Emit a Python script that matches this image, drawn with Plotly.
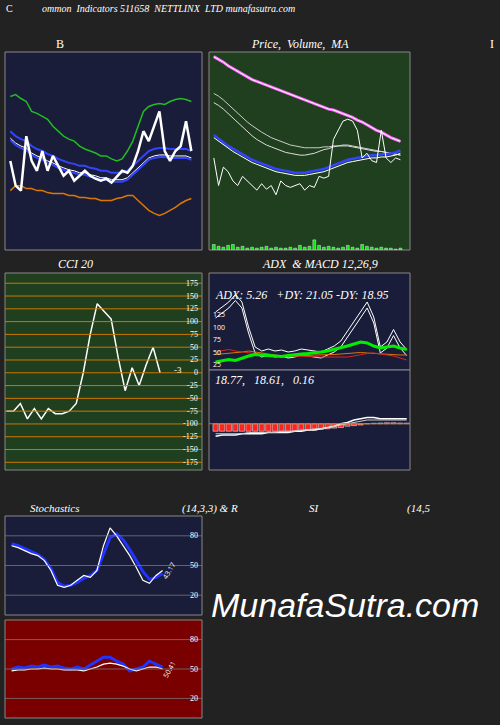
import plotly.graph_objects as go

W, H = 500, 725

# ---- data ----
bb_price = [90, 65, 60, 115, 90, 80, 100, 80, 95, 85, 75, 80, 70, 75, 80, 75, 72, 70, 72, 68, 74, 80, 78, 85, 100, 120, 110, 125, 140, 100, 90, 100, 105, 130, 100]
bb_upper = [155, 157, 153, 150, 140, 138, 135, 132, 125, 120, 115, 112, 110, 105, 102, 100, 98, 95, 95, 92, 90, 92, 100, 110, 125, 140, 145, 147, 148, 147, 150, 152, 153, 152, 150]
bb_mid_a = [120, 115, 112, 110, 105, 102, 100, 97, 95, 92, 90, 88, 87, 85, 85, 83, 82, 80, 80, 78, 78, 78, 80, 85, 90, 95, 100, 102, 103, 103, 102, 102, 102, 102, 100]
bb_mid_b = [v - 7 for v in bb_mid_a]
bb_lower = [60, 65, 65, 62, 62, 60, 60, 58, 57, 57, 57, 55, 55, 53, 53, 52, 52, 50, 50, 50, 52, 53, 55, 55, 50, 45, 40, 37, 35, 37, 40, 43, 47, 50, 52]

pv_top = [210, 207, 204, 200, 197, 194, 191, 188, 185, 183, 181, 179, 177, 175, 173, 171, 169, 167, 165, 163, 161, 159, 157, 155, 153, 152, 150, 148, 146, 144, 141, 139, 136, 133, 130, 128, 125, 122, 120, 118]
pv_price = [100, 70, 90, 85, 75, 70, 80, 75, 70, 65, 72, 66, 70, 60, 75, 70, 68, 70, 72, 65, 70, 68, 80, 78, 80, 120, 130, 140, 142, 140, 130, 100, 105, 97, 95, 130, 100, 95, 100, 98]
pv_ma1 = [160, 157, 153, 148, 143, 138, 133, 128, 124, 120, 117, 114, 112, 110, 108, 106, 105, 104, 103, 103, 104, 105, 107, 109, 110, 112, 113, 113, 113, 112, 111, 110, 109, 108, 107, 107, 106, 105, 104, 103]
pv_ma2 = [170, 167, 163, 158, 153, 148, 143, 139, 135, 131, 128, 125, 122, 120, 118, 116, 114, 113, 112, 111, 111, 111, 111, 112, 112, 113, 113, 114, 114, 113, 112, 111, 110, 109, 108, 107, 106, 105, 104, 103]
pv_blue = [125, 121, 117, 113, 110, 107, 104, 101, 98, 96, 94, 92, 90, 88, 87, 86, 85, 84, 84, 84, 85, 86, 87, 88, 90, 92, 94, 96, 98, 99, 100, 101, 102, 103, 103, 104, 104, 105, 106, 108]
pv_vol = [6, 4, 3, 5, 6, 3, 4, 2, 3, 2, 3, 4, 2, 3, 2, 2, 3, 2, 5, 3, 4, 11, 5, 3, 4, 3, 2, 3, 5, 3, 2, 6, 4, 3, 2, 3, 2, 2, 1, 2]

cci = [-75, -75, -60, -90, -70, -90, -70, -80, -80, -75, -60, 0, 75, 135, 120, 105, 30, -35, 10, -25, 15, 50, 0]
cci_ticks = [175, 150, 125, 100, 75, 50, 25, 0, -25, -50, -75, -100, -125, -150, -175]

adx_ticks = [125, 100, 75, 50, 25]
adx_a = [45, 46, 47, 48, 50, 52, 50, 48, 46, 44, 42, 42, 42, 43, 43, 44, 44, 44, 45, 46, 47, 48, 49, 48, 47, 46, 46, 45, 44, 44]
adx_plus = [30, 32, 35, 33, 38, 42, 45, 44, 43, 42, 41, 43, 45, 46, 47, 48, 50, 52, 55, 58, 62, 66, 70, 68, 62, 58, 60, 62, 58, 55]
adx_red = [50, 52, 55, 52, 50, 48, 46, 45, 44, 44, 43, 42, 42, 42, 41, 41, 40, 40, 39, 39, 40, 42, 45, 47, 48, 46, 44, 42, 38, 34]
adx_w1 = [130, 140, 150, 165, 150, 100, 60, 52, 56, 52, 54, 50, 52, 56, 54, 52, 50, 56, 62, 72, 92, 112, 132, 150, 120, 60, 70, 95, 70, 55]
adx_w2 = [v - 12 for v in adx_w1]
macd_line = [-10, -9, -9, -9, -8, -8, -8, -8, -7, -7, -7, -7, -6, -6, -5, -5, -4, -3, -2, 0, 1, 3, 4, 5, 5, 4, 4, 4, 4, 4]
macd_sig = [-8, -8, -8, -8, -8, -7, -7, -7, -7, -7, -6, -6, -6, -5, -5, -4, -4, -3, -2, -1, 0, 1, 2, 3, 3, 3, 3, 3, 3, 3]
macd_hist = [-6, -6, -6, -6, -6, -6, -6, -6, -6, -6, -6, -6, -6, -5.5, -5, -5, -4.5, -4, -3.5, -3, -2, -1.5, -1, 0, 0.4, 0.6, 0.8, 0.8, 0.6, 0.5]

stoch_k = [70, 68, 65, 62, 60, 55, 45, 30, 28, 30, 35, 40, 38, 45, 70, 88, 80, 70, 60, 48, 35, 32, 40, 45]
stoch_d = [72, 70, 67, 64, 61, 56, 47, 33, 29, 30, 33, 37, 40, 45, 62, 78, 82, 76, 66, 55, 44, 36, 38, 42]
rsi_a = [50, 52, 51, 53, 52, 54, 52, 53, 51, 50, 52, 50, 54, 58, 62, 62, 58, 55, 48, 50, 52, 58, 55, 52]
rsi_b = [48, 49, 49, 50, 50, 51, 50, 50, 49, 49, 49, 48, 50, 52, 55, 56, 55, 53, 50, 48, 50, 52, 52, 50]


def dom_x(a, b):
    return [a / W, b / W]


def dom_y(top, bot):
    return [1 - bot / H, 1 - top / H]


fig = go.Figure()
layout = dict(width=W, height=H, margin=dict(l=0, r=0, t=0, b=0),
              paper_bgcolor="#222222", showlegend=False)

panels = [
    # name, x0, x1, top, bottom, bg
    ("1", 5, 202, 52, 250, "#1a1d3a"),
    ("2", 209, 410, 52, 250, "#1f3f1f"),
    ("3", 5, 202, 273, 470, "#1f3f1f"),
    ("4", 209, 410, 273, 370, "#1a1d3a"),
    ("5", 209, 410, 370, 470, "#1a1d3a"),
    ("6", 5, 202, 516, 615, "#1a1d3a"),
    ("7", 5, 202, 620, 718, "#7a0000"),
]
shapes = []
for n, x0, x1, t, b, bg in panels:
    k = "" if n == "1" else n
    layout["xaxis" + k] = dict(domain=dom_x(x0, x1), visible=False, anchor="y" + k)
    layout["yaxis" + k] = dict(domain=dom_y(t, b), visible=False, anchor="x" + k)
    shapes.append(dict(type="rect", xref="paper", yref="paper",
                       x0=x0 / W, x1=x1 / W, y0=1 - b / H, y1=1 - t / H,
                       fillcolor=bg, line=dict(color="#888", width=1), layer="below"))


def line(y, color, ax, width=1.5, x=None):
    x = x if x is not None else list(range(len(y)))
    fig.add_trace(go.Scatter(x=x, y=y, mode="lines", line=dict(color=color, width=width),
                             xaxis="x" + ax, yaxis="y" + ax, hoverinfo="skip"))


# B panel
line(bb_upper, "#22bb22", "")
line(bb_lower, "#dd7700", "")
line(bb_mid_a, "#3344ff", "", 2)
line(bb_mid_b, "#ffffff", "", 1)
line([v - 2 for v in bb_mid_b], "#3344ff", "", 2)
line(bb_price, "#ffffff", "", 2.5)
layout["xaxis"]["range"] = [-1, 36]
layout["yaxis"]["range"] = [0, 200]

# Price panel
fig.add_trace(go.Bar(x=list(range(len(pv_vol))), y=pv_vol, marker_color="#00ee00",
                     xaxis="x2", yaxis="y2", width=0.6))
line(pv_top, "#ff66ff", "2", 3)
line(pv_top, "#ffffff", "2", 1)
line(pv_ma2, "#cccccc", "2", 1)
line(pv_ma1, "#dddddd", "2", 1)
line(pv_blue, "#3344ff", "2", 2.5)
line([v - 3 for v in pv_blue], "#ffffff", "2", 1)
line(pv_price, "#ffffff", "2", 1)
layout["xaxis2"]["range"] = [-1, 41]
layout["yaxis2"]["range"] = [0, 215]

# CCI panel
for v in cci_ticks:
    shapes.append(dict(type="line", xref="x3", yref="y3", x0=-1, x1=28, y0=v, y1=v,
                       line=dict(color="#cc7700", width=1)))
line(cci, "#ffffff", "3", 1.5)
layout["xaxis3"]["range"] = [-0.2, 28]
layout["yaxis3"]["range"] = [-190, 195]

# ADX
line(adx_w1, "#ffffff", "4", 1)
line(adx_w2, "#ffffff", "4", 1)
line(adx_a, "#dd7700", "4", 1)
line(adx_red, "#dd2222", "4", 1)
line(adx_plus, "#00ee00", "4", 3)
layout["xaxis4"]["range"] = [-1, 29.5]
layout["yaxis4"]["range"] = [14, 208]

# MACD
fig.add_trace(go.Bar(x=list(range(len(macd_hist))), y=macd_hist, marker_color="#ff2222",
                     marker_line=dict(color="#ffffff", width=0.5), xaxis="x5", yaxis="y5", width=0.8))
line(macd_line, "#ffffff", "5", 1.5)
line(macd_sig, "#cccccc", "5", 1)
layout["xaxis5"]["range"] = [-1, 29.5]
layout["yaxis5"]["range"] = [-37, 43]
shapes.append(dict(type="line", xref="x5", yref="y5", x0=-1, x1=29.5, y0=0, y1=0,
                   line=dict(color="#dd7700", width=1)))

# Stochastics / RSI
for ax in ("6", "7"):
    for v in (20, 50, 80):
        shapes.append(dict(type="line", xref="x" + ax, yref="y" + ax, x0=-1, x1=29, y0=v, y1=v,
                           line=dict(color="#777777", width=0.8)))
    layout["xaxis" + ax]["range"] = [-1, 29]
    layout["yaxis" + ax]["range"] = [0, 100]
line(stoch_d, "#2233ff", "6", 3)
line(stoch_k, "#ffffff", "6", 1.2)
line(rsi_a, "#2233ff", "7", 3)
line(rsi_b, "#ffffff", "7", 1.2)

F = dict(family="Liberation Serif", color="#ffffff", size=11)


def txt(x, y, s, size=11, anchor="left", font=None):
    f = dict(F if font is None else font)
    f["size"] = size
    return dict(x=x / W, y=1 - y / H, xref="paper", yref="paper", text=s, showarrow=False,
                xanchor=anchor, yanchor="middle", font=f)


ann = [
    txt(4, 8, "C", 10), txt(40, 8, "<i>ommon  Indicators 511658  NETTLINX  LTD munafasutra.com</i>", 10),
    txt(60, 44, "B", 12, "center"), txt(300, 44, "<i>Price,  Volume,  MA</i>", 12, "center"),
    txt(496, 44, "I", 12, "right"),
    txt(75, 264, "<i>CCI 20</i>", 12, "center"), txt(320, 264, "<i>ADX  & MACD 12,26,9</i>", 12, "center"),
    txt(213, 295, "<i>ADX: 5.26   +DY: 21.05 -DY: 18.95</i>", 12),
    txt(213, 380, "<i>18.77,   18.61,   0.16</i>", 12),
    txt(55, 508, "<i>Stochastics</i>", 11, "center"), txt(180, 508, "<i>(14,3,3) & R</i>", 11),
    txt(307, 508, "<i>SI</i>", 11), txt(405, 508, "<i>(14,5</i>", 11),
    txt(345, 605, "<i>MunafaSutra.com</i>", 34, "center", dict(family="Liberation Sans", color="#ffffff")),
    txt(172, 370, "-3", 9),
]
small = dict(family="Liberation Serif", color="#ffffff", size=8)
for v in cci_ticks:
    ann.append(dict(x=200 / W, y=v, xref="paper", yref="y3", text=str(v), showarrow=False,
                    xanchor="right", font=small))
for ax, lab in (("6", "43.17"), ("7", "50.41")):
    for v in (20, 50, 80):
        ann.append(dict(x=200 / W, y=v, xref="paper", yref="y" + ax, text=str(v), showarrow=False,
                        xanchor="right", font=small))
    ann.append(dict(x=24, y=45 if ax == "6" else 50, xref="x" + ax, yref="y" + ax, text=lab,
                    showarrow=False, textangle=-60, font=dict(color="#ffffff", size=7)))
for v in adx_ticks:
    ann.append(dict(x=211 / W, y=v, xref="paper", yref="y4", text=str(v), showarrow=False,
                    xanchor="left", font=dict(color="#ffffff", size=7)))

layout["shapes"] = shapes
layout["annotations"] = ann
fig.update_layout(**layout)
fig.write_html("out.html", config={"displayModeBar": False})

# drop the default page margin so the figure sits at the top-left corner
with open("out.html") as fh:
    page = fh.read()
page = page.replace("<head>", "<head><style>body{margin:0;background:#222222}</style>", 1)
with open("out.html", "w") as fh:
    fh.write(page)
